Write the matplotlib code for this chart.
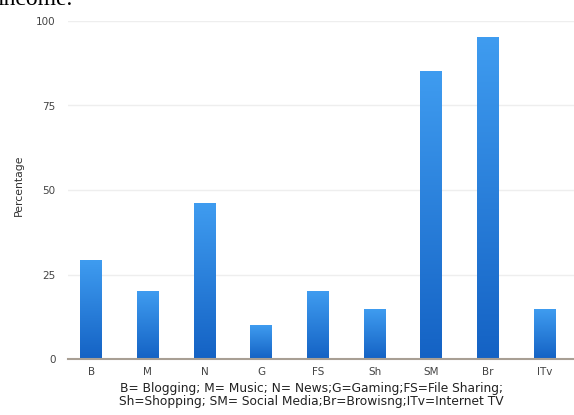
import matplotlib
matplotlib.use('Agg')
import matplotlib.pyplot as plt
from matplotlib.colors import LinearSegmentedColormap
import numpy as np

# data
categories = ['B', 'M', 'N', 'G', 'FS', 'Sh', 'SM', 'Br', 'ITv']
percentages = [29, 20, 46, 10, 20, 14.5, 85, 95, 14.5]
y_ticks = [0, 25, 50, 75, 100]
caption = ("B= Blogging; M= Music; N= News;G=Gaming;FS=File Sharing;\n"
           "Sh=Shopping; SM= Social Media;Br=Browisng;ITv=Internet TV")

fig = plt.figure(figsize=(5.74, 4.15), dpi=100)
ax = fig.add_axes([68 / 574, 1 - 359 / 415, 1 - 68 / 574, 338 / 415])

# gradient blue bars: dark at the base, lighter at the top
cmap = LinearSegmentedColormap.from_list('bar', ['#1462c4', '#3f9cf0'])
grad = np.linspace(0, 1, 256).reshape(-1, 1)
width = 0.38
for i, v in enumerate(percentages):
    ax.imshow(grad, cmap=cmap, origin='lower', aspect='auto',
              extent=(i - width / 2, i + width / 2, 0, v), zorder=3)

ax.set_xlim(-0.41, 8.52)
ax.set_ylim(0, 100)

ax.set_xticks(range(len(categories)))
ax.set_xticklabels(categories)
ax.set_yticks(y_ticks)
ax.tick_params(axis='both', length=0, labelsize=7.5, colors='#444444')
ax.tick_params(axis='x', pad=6)
ax.tick_params(axis='y', pad=9)

ax.grid(axis='y', color='#eeeeee', linewidth=1, zorder=0)
for s in ['top', 'right', 'left']:
    ax.spines[s].set_visible(False)
ax.spines['bottom'].set_color('#a89f94')
ax.spines['bottom'].set_linewidth(1.5)
ax.spines['bottom'].set_zorder(4)

fig.text(19 / 574, 1 - 185 / 415, 'Percentage', rotation=90,
         ha='center', va='center', fontsize=7.8, color='#333333')

fig.text(311 / 574, 1 - 395 / 415, caption, ha='center', va='center',
         multialignment='center', fontsize=8.8, color='#222222',
         linespacing=1.05)

# clipped text from the surrounding document
fig.text(-0.004, 1 - 5 / 415, 'income.', ha='left', va='baseline',
         fontsize=17, family='Liberation Serif', color='black')

plt.savefig('out.png', dpi=100)
